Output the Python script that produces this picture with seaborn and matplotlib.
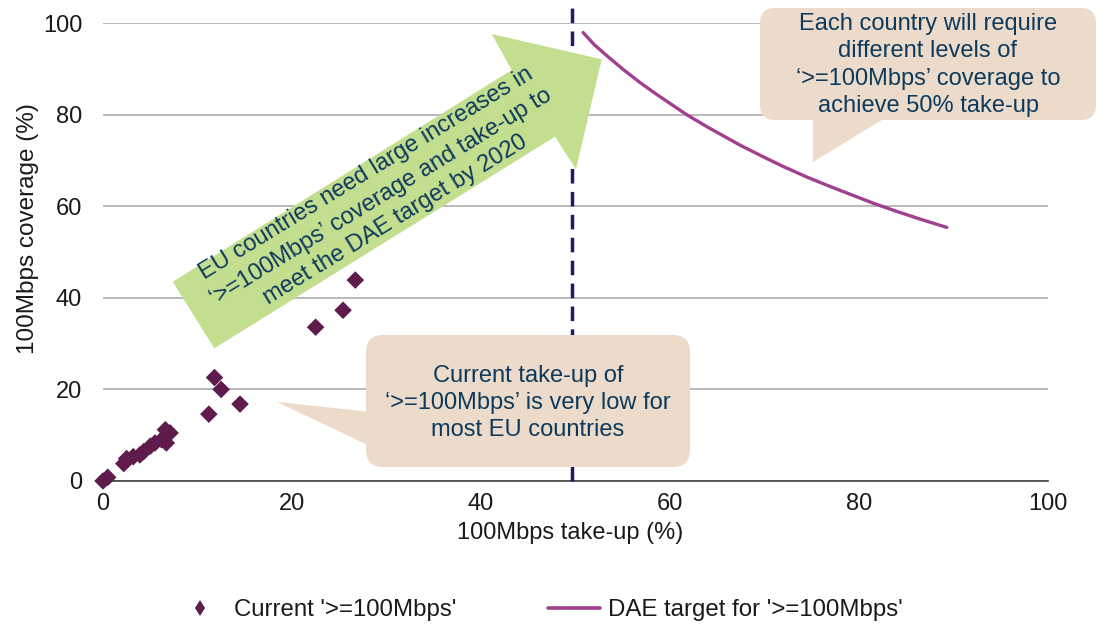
import matplotlib
matplotlib.use("Agg")
import matplotlib.pyplot as plt
import seaborn as sns
import pandas as pd
from matplotlib.patches import Polygon, FancyBboxPatch
from matplotlib.lines import Line2D
from matplotlib.transforms import IdentityTransform

# Current '>=100Mbps' take-up vs coverage for EU countries (%)
takeup = [0.0, 0.5, 2.2, 2.5, 3.2, 3.9, 4.3, 5.0, 5.5, 6.2, 6.7, 6.6, 7.1,
          11.2, 11.8, 12.5, 14.5, 22.5, 25.4, 26.7]
coverage = [0.0, 0.8, 3.8, 4.9, 5.3, 5.7, 6.4, 7.6, 8.3, 9.0, 8.3, 11.2, 10.5,
            14.6, 22.6, 20.0, 16.8, 33.6, 37.3, 43.9]

# DAE target: coverage required to reach 50% take-up
target_takeup = [50.8, 52.0, 53.5, 55.0, 56.8, 58.5, 60.0, 61.8, 64.0, 67.4,
                 70.0, 72.0, 74.5, 77.0, 79.0, 81.5, 84.0, 86.5, 89.3]
target_coverage = [98.0, 95.3, 92.6, 90.0, 87.1, 84.6, 82.5, 80.0, 77.3, 73.4,
                   70.7, 68.7, 66.4, 64.3, 62.7, 60.7, 58.9, 57.2, 55.4]

# DAE 50% take-up marker
dae_takeup = 49.6

x_ticks = [0, 20, 40, 60, 80, 100]
y_ticks = [0, 20, 40, 60, 80, 100]
series_labels = ["Current '>=100Mbps'", "DAE target for '>=100Mbps'"]

arrow_text = ("EU countries need large increases in\n"
              "\u2018>=100Mbps\u2019 coverage and take-up to\n"
              "meet the DAE target by 2020")
low_text = ("Current take-up of\n"
            "\u2018>=100Mbps\u2019 is very low for\n"
            "most EU countries")
target_text = ("Each country will require\n"
               "different levels of\n"
               "\u2018>=100Mbps\u2019 coverage to\n"
               "achieve 50% take-up")

POINT_COLOR = "#5E1B4C"
CURVE_COLOR = "#A0418F"
DASH_COLOR = "#1E1B6E"
GREEN = "#C4DE90"
CALLOUT = "#ECDBCA"
NOTE_TEXT = "#0D3A5C"

sns.set_theme(style="white")
plt.rcParams["font.family"] = ["Liberation Sans", "DejaVu Sans"]

W, H = 1097, 627
fig = plt.figure(figsize=(W / 100, H / 100), dpi=100)
ax = fig.add_axes([0.0939, 0.2329, 0.8614, 0.7299])

pts = pd.DataFrame({"takeup": takeup, "coverage": coverage})
tgt = pd.DataFrame({"takeup": target_takeup, "coverage": target_coverage})

sns.scatterplot(data=pts, x="takeup", y="coverage", marker="D", s=80,
                color=POINT_COLOR, edgecolor="none", linewidth=0,
                legend=False, ax=ax, zorder=4, clip_on=False)
sns.lineplot(data=tgt, x="takeup", y="coverage", color=CURVE_COLOR,
             linewidth=2.4, sort=False, estimator=None, ax=ax, zorder=4)

ax.vlines(dae_takeup, 0, 103.3, colors=DASH_COLOR, linewidth=2.5,
          linestyles=(0, (4.2, 2.4)), clip_on=False, zorder=3)

ax.set_xlim(0, 100)
ax.set_ylim(0, 100)
ax.set_xticks(x_ticks)
ax.set_yticks(y_ticks)
ax.set_axisbelow(True)
ax.yaxis.grid(True, color="#A6A6A6", linewidth=1.1)
ax.xaxis.grid(False)
for side in ("top", "right", "left"):
    ax.spines[side].set_visible(False)
ax.spines["bottom"].set_color("#404040")
ax.spines["bottom"].set_linewidth(1.2)
ax.tick_params(axis="both", length=0, labelsize=17, labelcolor="#1A1A1A")
ax.tick_params(axis="y", pad=15)
ax.tick_params(axis="x", pad=9)

ax.set_xlabel("100Mbps take-up (%)", fontsize=17, color="#1A1A1A")
ax.set_ylabel("100Mbps coverage (%)", fontsize=17.5, color="#1A1A1A")
ax.xaxis.set_label_coords(0.494, -0.09)
ax.yaxis.set_label_coords(-0.068, 0.552)


def px(x, y):
    """Image-pixel position (origin top-left) to display coordinates."""
    return (x, H - y)


ident = IdentityTransform()

# Green block arrow
arrow_pts = [px(172.7, 281.7), px(511.7, 70.0), px(491.7, 34.0),
             px(601.7, 59.3), px(576.0, 169.3), px(555.0, 136.7),
             px(214.3, 348.3)]
ax.add_patch(Polygon(arrow_pts, closed=True, facecolor=GREEN,
                     edgecolor="none", transform=ident, clip_on=False,
                     zorder=6))
ax.text(*px(381, 197), arrow_text, transform=ident, rotation=31.5,
        rotation_mode="anchor", ha="center", va="center", fontsize=17,
        color=NOTE_TEXT, linespacing=1.32, multialignment="center",
        zorder=7)


def callout(x0, y0, x1, y1, tail, radius, text, cy=None, zorder=6):
    bx0, by1 = px(x0, y1)
    box = FancyBboxPatch((bx0, by1), x1 - x0, y1 - y0,
                         boxstyle=f"round,pad=0,rounding_size={radius}",
                         facecolor=CALLOUT, edgecolor="none",
                         transform=ident, clip_on=False, zorder=zorder)
    ax.add_patch(box)
    ax.add_patch(Polygon([px(*p) for p in tail], closed=True,
                         facecolor=CALLOUT, edgecolor="none",
                         transform=ident, clip_on=False, zorder=zorder))
    if cy is None:
        cy = (y0 + y1) / 2
    ax.text(*px((x0 + x1) / 2, cy), text, transform=ident,
            ha="center", va="center", fontsize=17, color=NOTE_TEXT,
            linespacing=1.32, multialignment="center", zorder=zorder + 1)


callout(366, 335, 690, 467, [(372, 412), (277, 402), (372, 447)], 17,
        low_text, cy=403)
callout(760, 8, 1096, 120, [(813, 115), (890, 115), (813, 162)], 15,
        target_text, cy=65)

handles = [
    Line2D([], [], marker="d", linestyle="none", color=POINT_COLOR,
           markersize=8, markeredgewidth=0),
    Line2D([], [], color=CURVE_COLOR, linewidth=2.6),
]
fig.legend(handles, series_labels, loc="center",
           bbox_to_anchor=(0.4905, 0.027), ncol=2, frameon=False,
           fontsize=17.3, handlelength=2.2, handletextpad=0.3,
           columnspacing=3.8, labelcolor="#1A1A1A")

fig.savefig("out.png", dpi=100)
